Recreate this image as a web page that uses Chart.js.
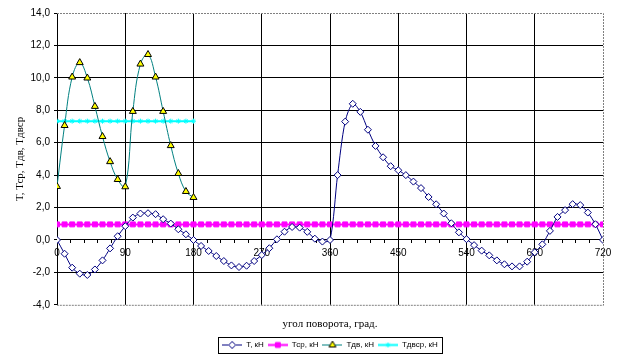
<!DOCTYPE html>
<html>
<head>
<meta charset="utf-8">
<script src="https://cdn.jsdelivr.net/npm/chart.js@4/dist/chart.umd.min.js"></script>
<style>
  html, body { margin: 0; padding: 0; background: #fff; }
</style>
</head>
<body>
<canvas id="chart" width="623" height="364"></canvas>
<script>
// угол поворота, град. (шаг 10)
const angles = [
  0, 10, 20, 30, 40, 50, 60, 70, 80, 90,
  100, 110, 120, 130, 140, 150, 160, 170, 180,
  190, 200, 210, 220, 230, 240, 250, 260, 270,
  280, 290, 300, 310, 320, 330, 340, 350, 360,
  370, 380, 390, 400, 410, 420, 430, 440, 450,
  460, 470, 480, 490, 500, 510, 520, 530, 540,
  550, 560, 570, 580, 590, 600, 610, 620, 630,
  640, 650, 660, 670, 680, 690, 700, 710, 720
];

const tValues = [
  0, -0.85, -1.71, -2.08, -2.16, -1.82, -1.26, -0.52, 0.23, 0.85,
  1.38, 1.63, 1.65, 1.59, 1.28, 1.01, 0.66, 0.35, 0.0,
  -0.37, -0.68, -0.99, -1.30, -1.57, -1.67, -1.59, -1.30, -0.93,
  -0.51, 0.04, 0.51, 0.80, 0.76, 0.50, 0.08, -0.10, 0.0,
  4.0, 7.3, 8.4, 7.9, 6.8, 5.8, 5.1, 4.55, 4.3,
  4.0, 3.6, 3.2, 2.65, 2.2, 1.63, 1.03, 0.47, 0.05,
  -0.32, -0.66, -0.95, -1.26, -1.5, -1.63, -1.63, -1.34, -0.76,
  -0.27, 0.56, 1.42, 1.84, 2.21, 2.15, 1.69, 0.97, 0
];

const tSrValues = [
  0.96, 0.96, 0.96, 0.96, 0.96, 0.96, 0.96, 0.96, 0.96, 0.96,
  0.96, 0.96, 0.96, 0.96, 0.96, 0.96, 0.96, 0.96, 0.96,
  0.96, 0.96, 0.96, 0.96, 0.96, 0.96, 0.96, 0.96, 0.96,
  0.96, 0.96, 0.96, 0.96, 0.96, 0.96, 0.96, 0.96, 0.96,
  0.96, 0.96, 0.96, 0.96, 0.96, 0.96, 0.96, 0.96, 0.96,
  0.96, 0.96, 0.96, 0.96, 0.96, 0.96, 0.96, 0.96, 0.96,
  0.96, 0.96, 0.96, 0.96, 0.96, 0.96, 0.96, 0.96, 0.96,
  0.96, 0.96, 0.96, 0.96, 0.96, 0.96, 0.96, 0.96, 0.96
];

// только 0..180
const tDvValues = [
  3.3, 7.06, 10.05, 10.94, 9.99, 8.24, 6.38, 4.83, 3.73, 3.28,
  7.93, 10.85, 11.44, 10.05, 7.93, 5.82, 4.1, 2.99, 2.62
];

const tDvSrValues = [
  7.33, 7.33, 7.33, 7.33, 7.33, 7.33, 7.33, 7.33, 7.33, 7.33,
  7.33, 7.33, 7.33, 7.33, 7.33, 7.33, 7.33, 7.33, 7.33
];

const seriesNames = ['Т, кН', 'Тср, кН', 'Тдв, кН', 'Тдвср, кН'];
const yTicks = [-4, -2, 0, 2, 4, 6, 8, 10, 12, 14];
const xLabelStep = 90;
const xMinorStep = 18;

const sans = '"Liberation Sans", Arial, sans-serif';
const serif = '"Liberation Serif", "Times New Roman", serif';

function pts(values) {
  return values.map((v, i) => ({ x: angles[i], y: v }));
}

// маленькая картинка для легенды: линия + маркер
function legendSample(ds) {
  const c = document.createElement('canvas');
  c.width = 20; c.height = 9;
  const g = c.getContext('2d');
  g.strokeStyle = ds.borderColor;
  g.lineWidth = ds.borderWidth;
  g.beginPath();
  g.moveTo(0, 4.5);
  g.lineTo(20, 4.5);
  g.stroke();
  g.fillStyle = ds.pointBackgroundColor;
  g.strokeStyle = ds.pointBorderColor;
  g.lineWidth = 1;
  Chart.helpers.drawPoint(g, { pointStyle: ds.pointStyle, radius: ds.pointRadius, borderWidth: 1, rotation: 0 }, 10, 4.5);
  return c;
}

const plotFrame = {
  id: 'plotFrame',
  beforeDatasetsDraw(chart) {
    const a = chart.chartArea;
    const ctx = chart.ctx;
    ctx.save();
    ctx.strokeStyle = '#808080';
    ctx.lineWidth = 1;
    ctx.setLineDash([2, 1]);
    ctx.beginPath();
    ctx.moveTo(a.left, a.top + 0.5);
    ctx.lineTo(a.right + 0.5, a.top + 0.5);
    ctx.lineTo(a.right + 0.5, a.bottom + 0.5);
    ctx.lineTo(a.left, a.bottom + 0.5);
    ctx.stroke();
    ctx.restore();
  },
  afterDraw(chart) {
    const boxes = chart.legend.legendHitBoxes;
    if (!boxes || !boxes.length) return;
    const left = Math.min(...boxes.map(b => b.left)) - 4;
    const right = Math.max(...boxes.map(b => b.left + b.width)) + 4;
    const top = boxes[0].top - 4;
    const h = boxes[0].height + 8;
    const ctx = chart.ctx;
    ctx.save();
    ctx.strokeStyle = '#000';
    ctx.lineWidth = 1;
    ctx.strokeRect(Math.round(left) + 0.5, Math.round(top) + 0.5, Math.round(right - left), Math.round(h));
    ctx.restore();
  }
};

const datasets = [
  {
    label: seriesNames[0],
    data: pts(tValues),
    borderColor: '#000080',
    borderWidth: 1,
    pointStyle: 'rectRot',
    pointRadius: 3.5,
    pointBackgroundColor: '#ffffff',
    pointBorderColor: '#000080',
    pointBorderWidth: 1,
    tension: 0.3
  },
  {
    label: seriesNames[1],
    data: pts(tSrValues),
    borderColor: '#ff00ff',
    borderWidth: 2,
    pointStyle: 'rect',
    pointRadius: 3.5,
    pointBackgroundColor: '#ff00ff',
    pointBorderColor: '#ff00ff',
    pointBorderWidth: 1,
    tension: 0
  },
  {
    label: seriesNames[2],
    data: pts(tDvValues),
    borderColor: '#008080',
    borderWidth: 1,
    pointStyle: 'triangle',
    pointRadius: 4,
    pointBackgroundColor: '#ffff00',
    pointBorderColor: '#000000',
    pointBorderWidth: 1,
    tension: 0.4
  },
  {
    label: seriesNames[3],
    data: pts(tDvSrValues),
    borderColor: '#00ffff',
    borderWidth: 2,
    pointStyle: 'star',
    pointRadius: 2.5,
    pointBackgroundColor: '#00ffff',
    pointBorderColor: '#00ffff',
    pointBorderWidth: 1,
    tension: 0
  }
];

new Chart(document.getElementById('chart'), {
  type: 'line',
  data: { datasets },
  plugins: [plotFrame],
  options: {
    responsive: false,
    animation: false,
    layout: { padding: { left: 0, right: 20, top: 13, bottom: 5 } },
    font: { family: sans },
    scales: {
      x: {
        type: 'linear',
        position: { y: 0 },
        min: 0,
        max: 720,
        afterBuildTicks(scale) {
          const t = [];
          for (let v = 0; v <= 720; v += xMinorStep) t.push({ value: v });
          scale.ticks = t;
        },
        ticks: {
          autoSkip: false,
          maxRotation: 0,
          padding: 4,
          color: '#000',
          font: { family: sans, size: 10 },
          callback: v => (v % xLabelStep === 0 ? String(v) : '')
        },
        grid: {
          color: c => (c.tick && c.tick.value % xLabelStep === 0 && c.tick.value !== 720 ? '#000' : 'rgba(0,0,0,0)'),
          lineWidth: 1,
          tickColor: '#000',
          tickLength: 3
        },
        border: { color: '#000', width: 1 }
      },
      y: {
        min: -4,
        max: 14,
        afterBuildTicks(scale) {
          scale.ticks = yTicks.map(v => ({ value: v }));
        },
        afterFit(scale) { scale.width = 57; },
        ticks: {
          padding: 4,
          color: '#000',
          font: { family: sans, size: 10 },
          callback: v => v.toFixed(1).replace('.', ',')
        },
        grid: {
          color: c => (c.tick && (c.tick.value === 14 || c.tick.value === -4) ? 'rgba(0,0,0,0)' : '#000'),
          lineWidth: 1,
          tickColor: '#000',
          tickLength: 3
        },
        border: { color: '#000', width: 1 },
        title: {
          display: true,
          text: 'Т, Тср, Тдв, Тдвср',
          color: '#000',
          font: { family: serif, size: 11 },
          padding: { top: 14, bottom: 0 }
        }
      }
    },
    plugins: {
      title: {
        display: true,
        text: 'угол поворота, град.',
        position: 'bottom',
        fullSize: false,
        weight: 500,
        color: '#000',
        font: { family: serif, size: 11, weight: 'normal' },
        padding: { top: 13, bottom: 6 }
      },
      legend: {
        position: 'bottom',
        fullSize: false,
        labels: {
          usePointStyle: true,
          pointStyleWidth: 20,
          boxHeight: 8,
          padding: 4,
          color: '#000',
          font: { family: sans, size: 8 },
          generateLabels(chart) {
            return chart.data.datasets.map((ds, i) => ({
              text: ds.label,
              pointStyle: legendSample(ds),
              fillStyle: ds.borderColor,
              strokeStyle: ds.borderColor,
              lineWidth: 0,
              fontColor: '#000',
              hidden: false,
              datasetIndex: i
            }));
          }
        }
      },
      tooltip: { enabled: false }
    }
  }
});
</script>
</body>
</html>
